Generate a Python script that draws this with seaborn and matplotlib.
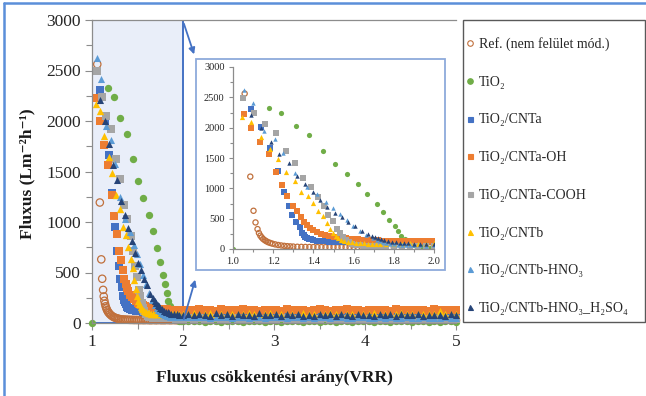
import pandas as pd
import seaborn as sns
import matplotlib.pyplot as plt
from matplotlib.lines import Line2D
from matplotlib.patches import Rectangle, FancyArrowPatch
from matplotlib.ticker import MultipleLocator

# ---- data ----
tail_vrr = [2.0, 2.06, 2.12, 2.18, 2.24, 2.3, 2.36, 2.42, 2.48, 2.54,
            2.6, 2.66, 2.72, 2.78, 2.84, 2.9, 2.96, 3.02, 3.08, 3.14,
            3.2, 3.26, 3.32, 3.38, 3.44, 3.5, 3.56, 3.62, 3.68, 3.74,
            3.8, 3.86, 3.92, 3.98, 4.04, 4.1, 4.16, 4.22, 4.28, 4.34,
            4.4, 4.46, 4.52, 4.58, 4.64, 4.7, 4.76, 4.82, 4.88, 4.94,
            5.0]

ref_vrr = [1.058, 1.086, 1.102, 1.112, 1.122, 1.129, 1.136, 1.143, 1.15, 1.158,
           1.166, 1.175, 1.185, 1.196, 1.21, 1.225, 1.24, 1.255, 1.27, 1.285,
           1.3, 1.32, 1.34, 1.36, 1.38, 1.4, 1.42, 1.44, 1.46, 1.48,
           1.5, 1.52, 1.54, 1.56, 1.58, 1.6, 1.62, 1.64, 1.66, 1.68,
           1.7, 1.72, 1.74, 1.76, 1.78, 1.8, 1.82, 1.84, 1.86, 1.88,
           1.9, 1.92, 1.94, 1.96, 1.98]
ref_flux = [2562, 1193, 630, 438, 328, 263, 220, 190, 165, 145,
            128, 112, 100, 88, 76, 66, 58, 52, 47, 43,
            40, 37, 35, 34, 33, 32, 31, 31, 30, 30,
            30, 29, 30, 29, 29, 30, 29, 28, 29, 30,
            28, 29, 30, 28, 29, 28, 30, 29, 28, 29,
            30, 28, 29, 28, 29]
ref_tail = [30, 29, 28, 30, 27, 29, 28, 26, 29, 30,
            28, 27, 29, 28, 30, 27, 28, 29, 26, 28,
            30, 29, 27, 28, 29, 27, 30, 28, 26, 29,
            28, 27, 29, 30, 28, 27, 29, 28, 26, 28,
            29, 30, 27, 28, 29, 27, 28, 26, 29, 28,
            27]

tio2_vrr = [1.0, 1.18, 1.24, 1.312, 1.38, 1.446, 1.507, 1.565, 1.621, 1.669,
            1.714, 1.747, 1.777, 1.805, 1.82, 1.838, 1.855, 1.87, 1.885, 1.9,
            1.92, 1.94, 1.96, 1.98]
tio2_flux = [0, 2327, 2239, 2026, 1872, 1620, 1401, 1237, 1073, 909,
             745, 602, 471, 383, 296, 219, 164, 120, 90, 60,
             40, 30, 22, 18]
tio2_tail = [18, 16, 15, 17, 14, 16, 15, 13, 16, 17,
             15, 14, 16, 15, 17, 14, 15, 16, 13, 15,
             17, 16, 14, 15, 16, 14, 17, 15, 13, 16,
             15, 14, 16, 17, 15, 14, 16, 15, 13, 15,
             16, 17, 14, 15, 16, 14, 15, 13, 16, 15,
             14]

cnta_vrr = [1.091, 1.14, 1.185, 1.223, 1.256, 1.278, 1.294, 1.311, 1.332, 1.344,
            1.352, 1.36, 1.37, 1.38, 1.39, 1.4, 1.42, 1.44, 1.46, 1.48,
            1.5, 1.53, 1.56, 1.6, 1.64, 1.68, 1.72, 1.76, 1.8, 1.84,
            1.88, 1.92, 1.96]
cnta_flux = [2305, 2004, 1659, 1292, 947, 717, 564, 438, 356, 263,
             230, 205, 185, 170, 158, 150, 140, 132, 126, 122,
             118, 115, 112, 110, 110, 108, 108, 106, 106, 105,
             105, 104, 104]
cnta_tail = [104, 102, 105, 101, 103, 100, 104, 99, 102, 101,
             103, 100, 98, 102, 99, 101, 100, 97, 101, 99,
             100, 98, 101, 97, 99, 100, 96, 99, 98, 100,
             97, 99, 96, 98, 100, 97, 98, 96, 99, 97,
             98, 95, 97, 99, 96, 98, 95, 97, 96, 98,
             95]

oh_vrr = [1.053, 1.091, 1.136, 1.177, 1.215, 1.245, 1.271, 1.298, 1.319, 1.336,
          1.355, 1.37, 1.385, 1.4, 1.42, 1.44, 1.46, 1.48, 1.5, 1.52,
          1.54, 1.56, 1.58, 1.6, 1.62, 1.64, 1.66, 1.68, 1.7, 1.72,
          1.74, 1.76, 1.78, 1.8, 1.82, 1.84, 1.86, 1.88, 1.9, 1.92,
          1.94, 1.96, 1.98]
oh_flux = [2223, 1999, 1758, 1560, 1270, 1056, 881, 717, 619, 526,
           438, 390, 350, 315, 280, 255, 235, 215, 200, 190,
           182, 175, 168, 163, 158, 154, 150, 147, 144, 142,
           140, 138, 137, 135, 134, 133, 132, 131, 130, 130,
           129, 128, 128]
oh_tail = [128, 132, 125, 136, 127, 130, 122, 134, 126, 131,
           124, 138, 127, 129, 121, 133, 126, 130, 123, 135,
           128, 125, 132, 120, 129, 134, 126, 122, 131, 127,
           136, 124, 129, 121, 133, 127, 125, 130, 122, 134,
           128, 124, 131, 126, 129, 123, 135, 127, 125, 130,
           128]

cooh_vrr = [1.05, 1.106, 1.157, 1.212, 1.263, 1.307, 1.347, 1.387, 1.425, 1.451,
            1.474, 1.496, 1.516, 1.532, 1.545, 1.56, 1.575, 1.59, 1.61, 1.63,
            1.65, 1.67, 1.7, 1.73, 1.76, 1.8, 1.84, 1.88, 1.92, 1.96]
cooh_flux = [2491, 2234, 2053, 1916, 1620, 1423, 1166, 1029, 865, 717,
             564, 454, 328, 263, 200, 150, 115, 90, 70, 60,
             55, 52, 50, 48, 47, 46, 45, 45, 44, 44]
cooh_tail = [44, 45, 43, 46, 44, 42, 45, 43, 44, 46,
             43, 44, 42, 45, 43, 44, 41, 43, 45, 42,
             44, 43, 41, 44, 42, 43, 45, 42, 43, 41,
             44, 42, 43, 40, 42, 44, 41, 43, 42, 40,
             43, 41, 42, 44, 40, 42, 41, 43, 40, 42,
             41]

cntb_vrr = [1.046, 1.091, 1.137, 1.182, 1.222, 1.264, 1.307, 1.337, 1.372, 1.4,
            1.425, 1.45, 1.466, 1.484, 1.499, 1.51, 1.52, 1.535, 1.55, 1.57,
            1.59, 1.61, 1.63, 1.65, 1.67, 1.69, 1.71, 1.73, 1.76, 1.8,
            1.84, 1.88, 1.92, 1.96]
cntb_flux = [2168, 2097, 1850, 1642, 1483, 1270, 1128, 947, 876, 755,
             630, 547, 427, 334, 263, 220, 185, 155, 135, 118,
             108, 100, 95, 92, 90, 88, 90, 87, 89, 90,
             88, 91, 89, 90]
cntb_tail = [92, 88, 95, 90, 86, 97, 91, 89, 94, 87,
             93, 90, 98, 88, 92, 85, 96, 90, 89, 94,
             91, 87, 95, 90, 88, 93, 86, 97, 91, 89,
             94, 88, 92, 90, 86, 95, 89, 93, 87, 91,
             96, 88, 92, 90, 94, 87, 91, 122, 89, 93,
             90]

hno3_vrr = [1.053, 1.099, 1.155, 1.21, 1.251, 1.306, 1.367, 1.42, 1.461, 1.496,
            1.532, 1.565, 1.598, 1.631, 1.664, 1.697, 1.715, 1.73, 1.745, 1.76,
            1.78, 1.8, 1.82, 1.84, 1.86, 1.88, 1.9, 1.93, 1.96]
hno3_flux = [2628, 2414, 1949, 1807, 1577, 1248, 1029, 903, 772, 684,
             580, 471, 383, 301, 224, 175, 150, 130, 115, 100,
             88, 78, 72, 67, 64, 62, 60, 58, 57]
hno3_tail = [58, 56, 57, 55, 58, 54, 56, 57, 55, 53,
             56, 58, 54, 55, 57, 53, 56, 55, 58, 54,
             55, 57, 53, 56, 54, 55, 57, 52, 55, 56,
             54, 53, 56, 55, 52, 54, 56, 53, 55, 54,
             52, 55, 53, 54, 56, 52, 54, 53, 55, 52,
             53]

h2so4_vrr = [1.091, 1.14, 1.19, 1.231, 1.279, 1.317, 1.36, 1.4, 1.435, 1.469,
             1.507, 1.54, 1.574, 1.607, 1.64, 1.673, 1.69, 1.705, 1.72, 1.735,
             1.75, 1.77, 1.79, 1.81, 1.83, 1.85, 1.87, 1.9, 1.93, 1.96]
h2so4_flux = [2206, 2000, 1768, 1560, 1412, 1209, 1073, 936, 810, 690,
              591, 520, 438, 372, 290, 246, 220, 200, 180, 165,
              150, 135, 122, 112, 104, 98, 93, 88, 85, 82]
h2so4_tail = [82, 88, 76, 92, 80, 73, 95, 79, 85, 70,
              90, 78, 84, 68, 96, 81, 75, 89, 72, 86,
              79, 93, 74, 83, 69, 91, 77, 85, 71, 88,
              80, 74, 94, 78, 83, 67, 90, 76, 86, 72,
              89, 79, 75, 92, 70, 84, 78, 81, 73, 87,
              76]

labels = ['Ref. (nem felület mód.)', 'TiO\u2082', 'TiO\u2082/CNTa', 'TiO\u2082/CNTa-OH',
          'TiO\u2082/CNTa-COOH', 'TiO\u2082/CNTb', 'TiO\u2082/CNTb-HNO\u2083',
          'TiO\u2082/CNTb-HNO\u2083_H\u2082SO\u2084']
colors = ['#c0703c', '#70ad47', '#4472c4', '#ed7d31', '#a5a5a5', '#ffc000', '#5b9bd5', '#264478']
markers = ['o', 'o', 's', 's', 's', '^', '^', '^']

series = [(ref_vrr, ref_flux, ref_tail), (tio2_vrr, tio2_flux, tio2_tail),
          (cnta_vrr, cnta_flux, cnta_tail), (oh_vrr, oh_flux, oh_tail),
          (cooh_vrr, cooh_flux, cooh_tail), (cntb_vrr, cntb_flux, cntb_tail),
          (hno3_vrr, hno3_flux, hno3_tail), (h2so4_vrr, h2so4_flux, h2so4_tail)]

# ---- style ----
sns.set_theme(style='white')
plt.rcParams['font.family'] = ['Liberation Serif', 'DejaVu Serif']

W, H = 646, 396


def fx(px):
    return px / W


def fy(py):
    return 1 - py / H


def draw_points(axis, size, tri_size, clip):
    for i, (vrr, flux, tail) in enumerate(series):
        df = pd.DataFrame({'VRR': vrr + tail_vrr, 'Fluxus': flux + tail})
        s = tri_size if i >= 6 else size
        if i == 0:
            sns.scatterplot(data=df, x='VRR', y='Fluxus', ax=axis, marker='o', s=s,
                            color=colors[i], facecolor='none', edgecolor=colors[i],
                            linewidth=0.9, clip_on=clip, legend=False, zorder=2)
        else:
            sns.scatterplot(data=df, x='VRR', y='Fluxus', ax=axis, marker=markers[i], s=s,
                            color=colors[i], edgecolor=colors[i], linewidth=0,
                            clip_on=clip, legend=False, zorder=2)


def style_axis(axis, xmaj, xmin_, labelsize, majlen, minlen):
    axis.set_ylim(0, 3000)
    axis.xaxis.set_major_locator(MultipleLocator(xmaj))
    axis.xaxis.set_minor_locator(MultipleLocator(xmin_))
    axis.yaxis.set_major_locator(MultipleLocator(500))
    axis.yaxis.set_minor_locator(MultipleLocator(250))
    axis.tick_params(which='both', direction='out', colors='#262626', labelsize=labelsize,
                     left=True, bottom=True, pad=3)
    axis.tick_params(which='both', color='#8c8c8c')
    axis.tick_params(which='major', length=majlen, width=0.8)
    axis.tick_params(which='minor', length=minlen, width=0.8)
    for side in ['left', 'bottom']:
        axis.spines[side].set_color('#8c8c8c')
        axis.spines[side].set_linewidth(0.9)
    axis.spines['right'].set_visible(False)
    axis.set_xlabel('')
    axis.set_ylabel('')


fig = plt.figure(figsize=(W / 100, H / 100), dpi=100)

# main chart
ax = fig.add_axes([fx(92), fy(323), fx(456) - fx(92), fy(20) - fy(323)], zorder=0)
ax.add_patch(Rectangle((1, 0), 1, 3000, facecolor='#e9eef9', edgecolor='#4472c4',
                       linewidth=1.4, zorder=0.5))
draw_points(ax, 28, 26, False)
ax.set_xlim(1, 5)
style_axis(ax, 1, 0.5, 12.5, 5, 4)
ax.spines['top'].set_color('#8c8c8c')
ax.spines['top'].set_linewidth(0.9)

# inset frame and inset chart
fig.add_artist(Rectangle((fx(196), fy(270)), fx(445) - fx(196), fy(59) - fy(270),
                         transform=fig.transFigure, facecolor='white',
                         edgecolor='#8eaadb', linewidth=1.3, zorder=1))
ax2 = fig.add_axes([fx(233), fy(249), fx(434) - fx(233), fy(67) - fy(249)], zorder=2)
ax2.patch.set_alpha(0)
draw_points(ax2, 14, 10, True)
ax2.set_xlim(1, 2)
style_axis(ax2, 0.2, 0.1, 7.5, 3, 2)
ax2.spines['top'].set_visible(False)
ax2.xaxis.set_major_formatter(plt.FormatStrFormatter('%.1f'))

# arrows from zoom box to inset
fig.add_artist(FancyArrowPatch((fx(183), fy(21)), (fx(195), fy(57)), transform=fig.transFigure,
                               arrowstyle='-|>', mutation_scale=9, color='#4472c4',
                               linewidth=1.3, zorder=3))
fig.add_artist(FancyArrowPatch((fx(183), fy(322)), (fx(196), fy(277)), transform=fig.transFigure,
                               arrowstyle='-|>', mutation_scale=9, color='#4472c4',
                               linewidth=1.3, zorder=3))

# axis titles
fig.text(fx(27), fy(174), 'Fluxus (Lm\u207b\u00b2h\u207b\u00b9)', rotation=90, ha='center',
         va='center', fontsize=12.5, fontweight='bold', color='#1a1a1a')
fig.text(fx(274), fy(378), 'Fluxus csökkentési arány(VRR)', ha='center', va='center',
         fontsize=12.5, fontweight='bold', color='#1a1a1a')

# legend
fig.add_artist(Rectangle((fx(463), fy(322)), fx(645) - fx(463), fy(20) - fy(322),
                         transform=fig.transFigure, facecolor='white',
                         edgecolor='#595959', linewidth=1.0, zorder=1))
handles = []
for i in range(len(labels)):
    face = 'none' if i == 0 else colors[i]
    ms = 4.0 if markers[i] == 'o' else 3.6
    handles.append(Line2D([], [], linestyle='none', marker=markers[i], markersize=ms,
                          markerfacecolor=face, markeredgecolor=colors[i], markeredgewidth=0.8))
leg = fig.legend(handles, labels, loc='upper left', bbox_to_anchor=(fx(467), fy(37)),
                 frameon=False, fontsize=10, labelspacing=1.78, handlelength=0.5,
                 handletextpad=0.35, borderpad=0, borderaxespad=0)
leg.set_zorder(4)

# outer chart frame
fig.add_artist(Line2D([fx(4), fx(4)], [fy(3), 0], transform=fig.transFigure,
                      color='#5b8fd9', linewidth=1.8, zorder=5))
fig.add_artist(Line2D([fx(4), 1], [fy(3), fy(3)], transform=fig.transFigure,
                      color='#5b8fd9', linewidth=1.8, zorder=5))

fig.savefig('out.png', dpi=100)
